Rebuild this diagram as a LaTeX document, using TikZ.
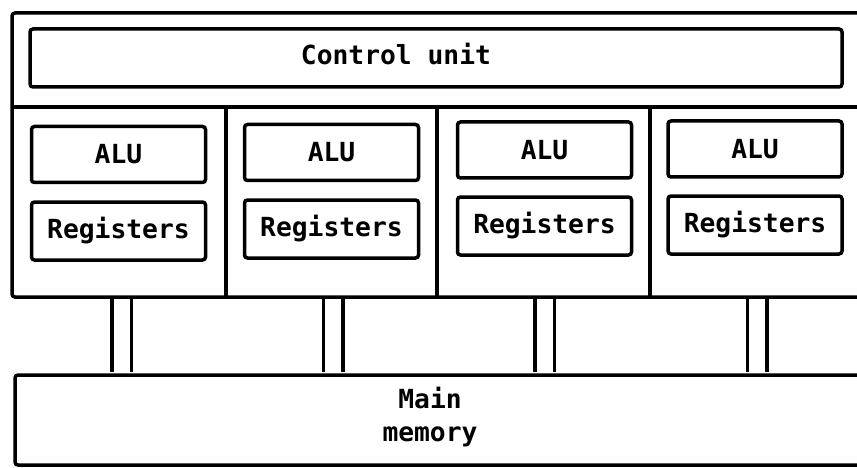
\documentclass[tikz,border=0pt]{standalone}
\usepackage{fontspec}
\setmonofont{DejaVu Sans Mono}
\usetikzlibrary{positioning}
\tikzset{
  frm/.style={line width=3.5pt, rounded corners=3pt},
  unit/.style={draw, line width=3.5pt, rounded corners=3pt, minimum width=174pt, minimum height=56pt, inner sep=0pt, font=\fontsize{26.3}{30}\selectfont\ttfamily\bfseries},
  lbl/.style={font=\fontsize{26.3}{33}\selectfont\ttfamily\bfseries, align=center},
  pipe/.style={line width=3.5pt, double=white, double distance=16pt, shorten >=1.75pt, shorten <=1.75pt},
}
\begin{document}
\begin{tikzpicture}[x=1pt, y=-1pt]
  \useasboundingbox (0,0) rectangle (857,468);
  \clip (0,0) rectangle (857,468);

  % processor array frame
  \draw[frm] (880,13) -- (12,13) -- (12,297) -- (880,297);
  \draw[frm] (12,107) -- (880,107);
  \foreach \x in {226,437,650}
    \draw[frm] (\x,107) -- (\x,297);

  \node[unit, minimum width=812pt, minimum height=58pt] (cu) at (436,58) {};
  \node[lbl] (cutext) at (396,54) {Control unit};

  % processing elements
  \foreach \n/\x/\ya/\yr in {1/118.5/154.5/231, 2/331.5/152.5/229, 3/544.5/150/226, 4/755/149/225} {
    \node[unit] (alu\n) at (\x,\ya) {ALU};
    \node[unit, minimum height=58pt] (reg\n) at (\x,\yr) {Registers};
  }

  % main memory
  \node[draw, frm, minimum width=865pt, minimum height=90pt] (mem) at (447.5,420) {};
  \node[lbl] (memtext) at (430,417) {Main\\memory};

  % memory paths
  \foreach \n/\x in {1/121.5, 2/333, 3/544.5, 4/757} {
    \coordinate (p\n) at (\x,297);
    \draw[pipe] (p\n) -- (p\n |- mem.north);
  }
\end{tikzpicture}
\end{document}
